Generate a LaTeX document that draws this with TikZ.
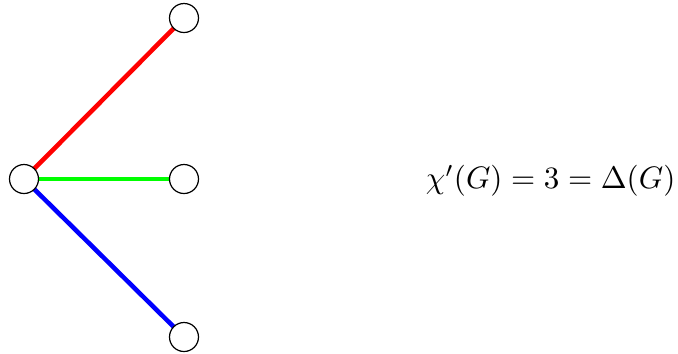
\documentclass[tikz,border=0pt]{standalone}
\begin{document}
\begin{tikzpicture}[x=0.33pt,y=-0.33pt,
  vtx/.style={circle,draw=black,fill=white,line width=0.4pt,minimum size=29*0.33pt,inner sep=0pt},
  edg/.style={line width=1.5pt}]
\useasboundingbox (0,0) rectangle (678,353);
\coordinate (c) at (24,179);
\coordinate (t) at (184,18);
\coordinate (m) at (184,179);
\coordinate (b) at (184,337);
\draw[edg,red] (c) -- (t);
\draw[edg,green] (c) -- (m);
\draw[edg,blue] (c) -- (b);
\node[vtx] (nc) at (c) {};
\node[vtx] (nt) at (t) {};
\node[vtx] (nm) at (m) {};
\node[vtx] (nb) at (b) {};
\node[anchor=east,inner sep=0pt,scale=1.025] (f) at (676,181) {$\chi'(G) = 3 = \Delta(G)$};
\end{tikzpicture}
\end{document}
